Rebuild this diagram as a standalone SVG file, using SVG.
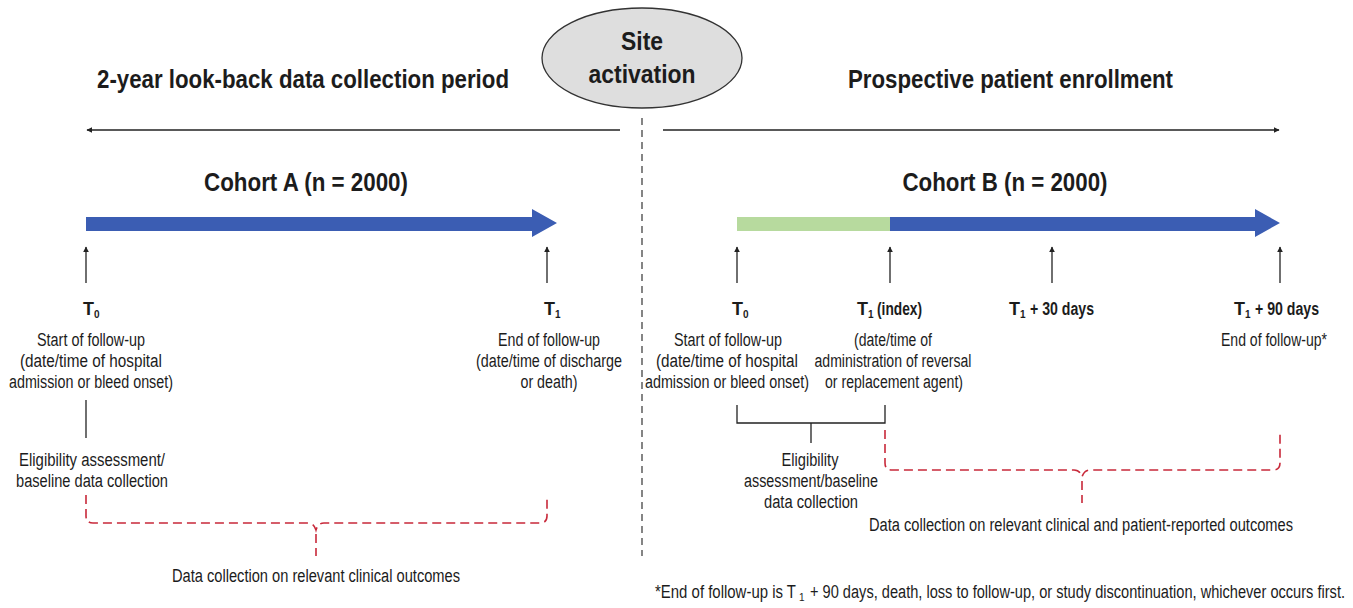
<svg xmlns="http://www.w3.org/2000/svg" width="1353" height="608" viewBox="0 0 1353 608">
<style>
text{font-family:"Liberation Sans Narrow","Liberation Sans",Arial,sans-serif;fill:#1c1c1c;}
.h{font-size:25px;font-weight:bold;}
.s{font-size:18px;}
.b{font-size:18px;font-weight:bold;}
.sub{font-size:10px;font-weight:bold;}
.subn{font-size:10px;}
.thin{stroke:#222;stroke-width:1.3;fill:none;}
.red{stroke:#c8293a;stroke-width:1.6;fill:none;stroke-dasharray:9 5;}
</style>
<defs>
<marker id="ah" viewBox="0 0 10 10" refX="9" refY="5" markerWidth="6" markerHeight="6" orient="auto" markerUnits="userSpaceOnUse">
<path d="M0,0 L10,5 L0,10 z" fill="#222"/>
</marker>
</defs>
<rect width="1353" height="608" fill="#fff"/>

<g id="header-left"><text class="h" x="97" y="88" textLength="412" lengthAdjust="spacingAndGlyphs">2-year look-back data collection period</text></g>
<g id="header-right"><text class="h" x="848" y="88" textLength="325" lengthAdjust="spacingAndGlyphs">Prospective patient enrollment</text></g>

<g id="site-activation">
<ellipse cx="642" cy="58" rx="100" ry="50" fill="#dedede" stroke="#333" stroke-width="1.3"/>
<text class="h" x="642" y="50" text-anchor="middle" textLength="42" lengthAdjust="spacingAndGlyphs">Site</text>
<text class="h" x="642" y="83" text-anchor="middle" textLength="107" lengthAdjust="spacingAndGlyphs">activation</text>
</g>

<g id="connectors">
<line x1="642" y1="118" x2="642" y2="556" stroke="#444" stroke-width="1.3" stroke-dasharray="7 5"/>
<line x1="620" y1="130" x2="87" y2="130" class="thin" marker-end="url(#ah)"/>
<line x1="663" y1="130" x2="1279" y2="130" class="thin" marker-end="url(#ah)"/>
<line x1="86" y1="283" x2="86" y2="247" class="thin" marker-end="url(#ah)"/>
<line x1="547" y1="283" x2="547" y2="247" class="thin" marker-end="url(#ah)"/>
<line x1="737" y1="283" x2="737" y2="247" class="thin" marker-end="url(#ah)"/>
<line x1="890" y1="283" x2="890" y2="247" class="thin" marker-end="url(#ah)"/>
<line x1="1052" y1="283" x2="1052" y2="247" class="thin" marker-end="url(#ah)"/>
<line x1="1280" y1="283" x2="1280" y2="247" class="thin" marker-end="url(#ah)"/>
<line x1="86" y1="400" x2="86" y2="438" class="thin"/>
<path class="thin" d="M737,405 L737,423 L885,423 L885,405 M811,423 L811,443"/>
<path class="red" d="M86,495 L86,516 Q86,523 93,523 L308,523 Q314,523 316,530 Q318,523 324,523 L540,523 Q547,523 547,516 L547,495"/>
<path class="red" d="M316,534 L316,556"/>
<path class="red" d="M885,430 L885,463 Q885,470 892,470 L1074,470 Q1080,470 1082,477 Q1084,470 1090,470 L1273,470 Q1280,470 1280,463 L1280,430"/>
<path class="red" d="M1082,481 L1082,503"/>
</g>

<g id="cohort-a">
<text class="h" x="306" y="191" text-anchor="middle" textLength="204" lengthAdjust="spacingAndGlyphs">Cohort A (n = 2000)</text>
<polygon points="86,217 532,217 532,209 557,223 532,237 532,231 86,231" fill="#3b5db3"/>
</g>

<g id="cohort-b">
<text class="h" x="1005" y="191" text-anchor="middle" textLength="205" lengthAdjust="spacingAndGlyphs">Cohort B (n = 2000)</text>
<rect x="737" y="217" width="153" height="14" fill="#b7da9e"/>
<polygon points="890,217 1255,217 1255,209 1280,223 1255,237 1255,231 890,231" fill="#3b5db3"/>
</g>

<g id="a-t0">
<text class="b" x="83" y="315">T<tspan class="sub" dy="3">0</tspan></text>
<text class="s" x="91" y="346" text-anchor="middle" textLength="108" lengthAdjust="spacingAndGlyphs">Start of follow-up</text>
<text class="s" x="91" y="367" text-anchor="middle" textLength="142" lengthAdjust="spacingAndGlyphs">(date/time of hospital</text>
<text class="s" x="91" y="388" text-anchor="middle" textLength="164" lengthAdjust="spacingAndGlyphs">admission or bleed onset)</text>
</g>
<g id="a-t1">
<text class="b" x="544" y="315">T<tspan class="sub" dy="3">1</tspan></text>
<text class="s" x="549" y="346" text-anchor="middle" textLength="102" lengthAdjust="spacingAndGlyphs">End of follow-up</text>
<text class="s" x="549" y="367" text-anchor="middle" textLength="146" lengthAdjust="spacingAndGlyphs">(date/time of discharge</text>
<text class="s" x="549" y="388" text-anchor="middle" textLength="57" lengthAdjust="spacingAndGlyphs">or death)</text>
</g>
<g id="a-eligibility">
<text class="s" x="92" y="466" text-anchor="middle" textLength="146" lengthAdjust="spacingAndGlyphs">Eligibility assessment/</text>
<text class="s" x="92" y="487" text-anchor="middle" textLength="152" lengthAdjust="spacingAndGlyphs">baseline data collection</text>
</g>
<g id="a-outcomes">
<text class="s" x="316" y="582" text-anchor="middle" textLength="288" lengthAdjust="spacingAndGlyphs">Data collection on relevant clinical outcomes</text>
</g>

<g id="b-t0">
<text class="b" x="732" y="315">T<tspan class="sub" dy="3">0</tspan></text>
<text class="s" x="728" y="346" text-anchor="middle" textLength="108" lengthAdjust="spacingAndGlyphs">Start of follow-up</text>
<text class="s" x="727" y="367" text-anchor="middle" textLength="142" lengthAdjust="spacingAndGlyphs">(date/time of hospital</text>
<text class="s" x="727" y="388" text-anchor="middle" textLength="164" lengthAdjust="spacingAndGlyphs">admission or bleed onset)</text>
</g>
<g id="b-t1">
<text class="b" x="857" y="315">T<tspan class="sub" dy="3">1</tspan></text>
<text class="b" x="877" y="315" textLength="45" lengthAdjust="spacingAndGlyphs">(index)</text>
<text class="s" x="893" y="346" text-anchor="middle" textLength="78" lengthAdjust="spacingAndGlyphs">(date/time of</text>
<text class="s" x="893" y="367" text-anchor="middle" textLength="157" lengthAdjust="spacingAndGlyphs">administration of  reversal</text>
<text class="s" x="894" y="388" text-anchor="middle" textLength="138" lengthAdjust="spacingAndGlyphs">or  replacement agent)</text>
</g>
<g id="b-t1-30">
<text class="b" x="1009" y="315">T<tspan class="sub" dy="3">1</tspan></text>
<text class="b" x="1030" y="315" textLength="64" lengthAdjust="spacingAndGlyphs">+ 30 days</text>
</g>
<g id="b-t1-90">
<text class="b" x="1234" y="315">T<tspan class="sub" dy="3">1</tspan></text>
<text class="b" x="1255" y="315" textLength="64" lengthAdjust="spacingAndGlyphs">+ 90 days</text>
<text class="s" x="1274" y="346" text-anchor="middle" textLength="106" lengthAdjust="spacingAndGlyphs">End of follow-up*</text>
</g>
<g id="b-eligibility">
<text class="s" x="810" y="466" text-anchor="middle" textLength="57" lengthAdjust="spacingAndGlyphs">Eligibility</text>
<text class="s" x="811" y="487" text-anchor="middle" textLength="134" lengthAdjust="spacingAndGlyphs">assessment/baseline</text>
<text class="s" x="811" y="508" text-anchor="middle" textLength="94" lengthAdjust="spacingAndGlyphs">data collection</text>
</g>
<g id="b-outcomes">
<text class="s" x="1081" y="531" text-anchor="middle" textLength="424" lengthAdjust="spacingAndGlyphs">Data collection on relevant clinical and patient-reported outcomes</text>
</g>
<g id="footnote">
<text class="s" x="655" y="598" textLength="141" lengthAdjust="spacingAndGlyphs">*End of follow-up is T</text>
<text class="subn" x="799" y="601">1</text>
<text class="s" x="810" y="598" textLength="535" lengthAdjust="spacingAndGlyphs">+ 90 days, death, loss to follow-up, or study discontinuation, whichever occurs first.</text>
</g>
</svg>
